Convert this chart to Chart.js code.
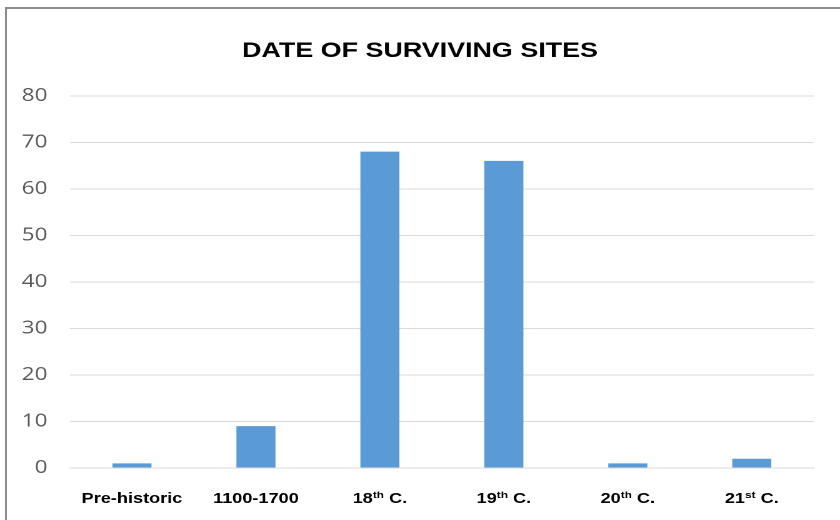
<!DOCTYPE html>
<html>
<head>
<meta charset="utf-8">
<script src="https://cdn.jsdelivr.net/npm/chart.js@4"></script>
<style>
    html, body { margin: 0; padding: 0; background: #fff; overflow: hidden; }
    /* the source picture is stretched sideways, so the chart is drawn narrower and widened */
    #wrap {
        position: absolute; left: 0; top: 0;
        width: 672px; height: 520px;
        transform: scaleX(1.25); transform-origin: 0 0;
    }
    #frame {
        position: absolute; left: 5px; top: 7px;
        width: 860px; height: 540px;
        border-left: 2px solid #8c8c8c;
        border-top: 2px solid #8c8c8c;
        pointer-events: none;
    }
</style>
</head>
<body>
<div id="wrap"><canvas id="sites-chart"></canvas></div>
<div id="frame"></div>
<script>
// === Data ===
const categories = ['Pre-historic', '1100-1700', '18th C.', '19th C.', '20th C.', '21st C.'];
const siteCounts = [1, 9, 68, 66, 1, 2];
const yTicks = [0, 10, 20, 30, 40, 50, 60, 70, 80];

const BAR_BLUE = '#5b9bd5';
const GRID_GREY = '#d9d9d9';
const LABEL_FONT = '"Liberation Sans", Arial, sans-serif';

// x labels drawn by hand so "th" / "st" can sit as superscript
const superLabels = {
    id: 'superLabels',
    afterDraw(chart) {
        const { ctx, scales: { x } } = chart;
        ctx.save();
        ctx.fillStyle = '#000';
        ctx.textBaseline = 'alphabetic';
        ctx.textAlign = 'left';
        const baseY = 503;
        x.ticks.forEach((t, i) => {
            const label = categories[i];
            const m = label.match(/^(\d+)(st|nd|rd|th)(.*)$/);
            const parts = m
                ? [[m[1], 14.5, 0], [m[2], 9.5, -5], [m[3], 14.5, 0]]
                : [[label, 14.5, 0]];
            let total = 0;
            parts.forEach(p => {
                ctx.font = `bold ${p[1]}px ${LABEL_FONT}`;
                p.push(ctx.measureText(p[0]).width);
                total += p[3];
            });
            let cx = x.getPixelForTick(i) - total / 2;
            parts.forEach(p => {
                ctx.font = `bold ${p[1]}px ${LABEL_FONT}`;
                ctx.fillText(p[0], cx, baseY + p[2]);
                cx += p[3];
            });
        });
        ctx.restore();
    }
};

const ctx = document.getElementById('sites-chart');
new Chart(ctx, {
    type: 'bar',
    data: {
        labels: categories,
        datasets: [{
            label: 'Sites',
            data: siteCounts,
            backgroundColor: BAR_BLUE,
            borderWidth: 0,
            barPercentage: 1,
            categoryPercentage: 0.315
        }]
    },
    options: {
        responsive: true,
        maintainAspectRatio: false,
        animation: false,
        devicePixelRatio: 2,
        layout: { padding: 0 },
        plugins: {
            legend: { display: false },
            tooltip: { enabled: false },
            title: {
                display: true,
                text: 'DATE OF SURVIVING SITES',
                color: '#000',
                font: { family: LABEL_FONT, size: 21.5, weight: 'bold' },
                padding: { top: 38, bottom: 32 }
            }
        },
        scales: {
            x: {
                grid: { display: false },
                border: { color: GRID_GREY },
                ticks: { display: false },
                afterFit: (scale) => { scale.height = 52; }
            },
            y: {
                min: yTicks[0],
                max: yTicks[yTicks.length - 1],
                afterBuildTicks: (scale) => { scale.ticks = yTicks.map(v => ({ value: v })); },
                grid: { color: GRID_GREY, lineWidth: 1, drawTicks: false },
                border: { display: false },
                ticks: {
                    color: '#595959',
                    padding: 18,
                    font: { family: '"Open Sans", sans-serif', size: 18 }
                },
                afterFit: (scale) => { scale.width = 56; }
            },
            // empty right-hand gap so the plot stops short of the edge
            yGap: {
                type: 'linear',
                position: 'right',
                display: true,
                grid: { display: false, drawTicks: false },
                border: { display: false },
                ticks: { display: false },
                afterFit: (scale) => { scale.width = 21; }
            }
        }
    },
    plugins: [superLabels]
});
</script>
</body>
</html>
